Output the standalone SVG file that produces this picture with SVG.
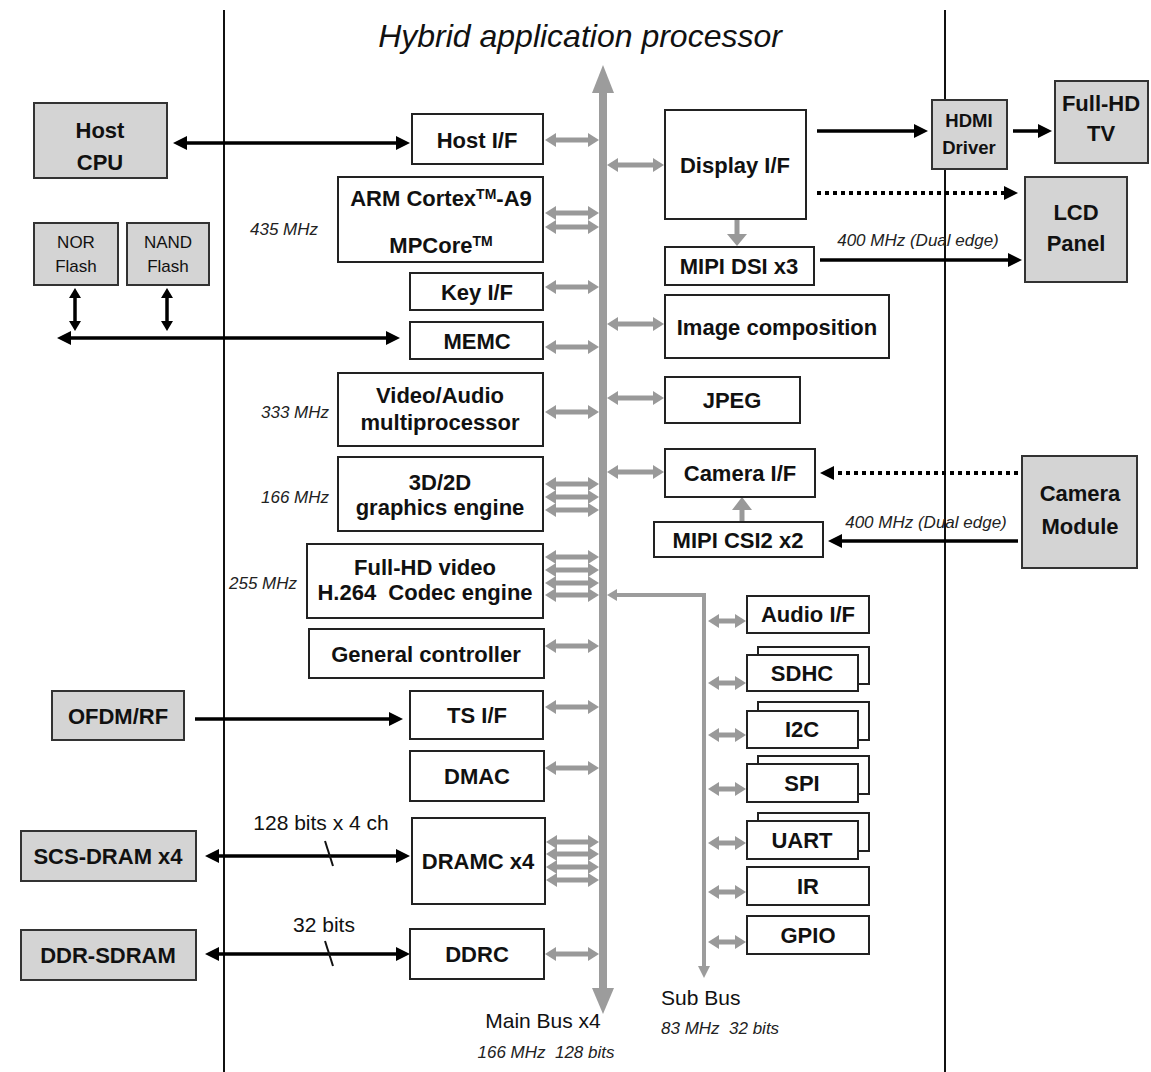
<svg xmlns="http://www.w3.org/2000/svg" width="1151" height="1072" viewBox="0 0 1151 1072">
  <style>
    .box { fill: #ffffff; stroke: #222222; stroke-width: 2; }
    .ext { fill: #d4d4d4; stroke: #333333; stroke-width: 2; }
    .lbl { font-family: "Liberation Sans", Arial, sans-serif; font-weight: bold; font-size: 22px; fill: #111111; text-anchor: middle; }
    .sm { font-size: 18.5px; }
    .flash { font-family: "Liberation Sans", Arial, sans-serif; font-size: 17px; fill: #111111; text-anchor: middle; }
    .freq { font-family: "Liberation Sans", Arial, sans-serif; font-style: italic; font-size: 17px; fill: #222222; text-anchor: middle; }
    .note { font-family: "Liberation Sans", Arial, sans-serif; font-size: 21px; fill: #111111; text-anchor: middle; }
    .start { text-anchor: start; }
    .title { font-family: "Liberation Sans", Arial, sans-serif; font-style: italic; font-size: 32px; fill: #111111; text-anchor: middle; }
    .divider { stroke: #111111; stroke-width: 2; }
    .blk { stroke: #000000; stroke-width: 3.5; fill: none; }
    .dot { stroke: #000000; stroke-width: 4; stroke-dasharray: 4 4; fill: none; }
    .gry { stroke: #999999; stroke-width: 5; fill: none; }
    .bus { stroke: #9c9c9c; stroke-width: 8; fill: none; }
    .subbus { stroke: #9c9c9c; stroke-width: 4; fill: none; }
    .bushead { fill: #9c9c9c; }
    .one { marker-end: url(#ah); }
    .two { marker-start: url(#ah); marker-end: url(#ah); }
    .g2 { marker-start: url(#gh); marker-end: url(#gh); }
  </style>
  <defs>
    <marker id="ah" markerUnits="userSpaceOnUse" markerWidth="14" markerHeight="14" refX="4" refY="7" orient="auto-start-reverse">
      <path d="M0,0 L14,7 L0,14 z" fill="#000000"/>
    </marker>
    <marker id="gh" markerUnits="userSpaceOnUse" markerWidth="11" markerHeight="14" refX="3" refY="7" orient="auto-start-reverse">
      <path d="M0,0 L11,7 L0,14 z" fill="#999999"/>
    </marker>
  </defs>

  <rect width="1151" height="1072" fill="#ffffff"/>

  <!-- chip boundary lines and title -->
  <line class="divider" x1="224" y1="10" x2="224" y2="1072"/>
  <line class="divider" x1="945" y1="10" x2="945" y2="1072"/>
  <text class="title" x="580" y="47">Hybrid application processor</text>

  <g id="connectors">
    <!-- main bus -->
    <line class="bus" x1="603" y1="88" x2="603" y2="994"/>
    <polygon class="bushead" points="603,65 614,93 592,93"/>
    <polygon class="bushead" points="603,1014 614,988 592,988"/>

    <!-- sub bus -->
    <polyline class="subbus" points="614,595 704,595 704,968"/>
    <polygon class="bushead" points="607,595 617,589 617,601"/>
    <polygon class="bushead" points="704,978 710,966 698,966"/>

    <!-- left blocks to main bus -->
    <line class="gry g2" x1="553" y1="140" x2="591" y2="140"/>
    <line class="gry g2" x1="553" y1="213" x2="591" y2="213"/>
    <line class="gry g2" x1="553" y1="227" x2="591" y2="227"/>
    <line class="gry g2" x1="553" y1="287" x2="591" y2="287"/>
    <line class="gry g2" x1="553" y1="347" x2="591" y2="347"/>
    <line class="gry g2" x1="553" y1="412" x2="591" y2="412"/>
    <line class="gry g2" x1="553" y1="484" x2="591" y2="484"/>
    <line class="gry g2" x1="553" y1="497" x2="591" y2="497"/>
    <line class="gry g2" x1="553" y1="510" x2="591" y2="510"/>
    <line class="gry g2" x1="553" y1="557" x2="591" y2="557"/>
    <line class="gry g2" x1="553" y1="570" x2="591" y2="570"/>
    <line class="gry g2" x1="553" y1="583" x2="591" y2="583"/>
    <line class="gry g2" x1="553" y1="595" x2="591" y2="595"/>
    <line class="gry g2" x1="553" y1="646" x2="591" y2="646"/>
    <line class="gry g2" x1="553" y1="707" x2="591" y2="707"/>
    <line class="gry g2" x1="553" y1="768" x2="591" y2="768"/>
    <line class="gry g2" x1="554" y1="842" x2="591" y2="842"/>
    <line class="gry g2" x1="554" y1="854" x2="591" y2="854"/>
    <line class="gry g2" x1="554" y1="867" x2="591" y2="867"/>
    <line class="gry g2" x1="554" y1="880" x2="591" y2="880"/>
    <line class="gry g2" x1="553" y1="954" x2="591" y2="954"/>

    <!-- main bus to right blocks -->
    <line class="gry g2" x1="615" y1="165" x2="656" y2="165"/>
    <line class="gry g2" x1="615" y1="324" x2="656" y2="324"/>
    <line class="gry g2" x1="615" y1="398" x2="656" y2="398"/>
    <line class="gry g2" x1="615" y1="472" x2="656" y2="472"/>

    <!-- display / camera internal links -->
    <line class="gry" x1="737" y1="220" x2="737" y2="236" stroke-width="6"/>
    <polygon fill="#999999" points="737,246 727,234 747,234"/>
    <line class="gry" x1="742" y1="522" x2="742" y2="508" stroke-width="6"/>
    <polygon fill="#999999" points="742,497 732,510 752,510"/>

    <!-- sub bus to peripherals -->
    <line class="gry g2" x1="716" y1="621" x2="738" y2="621"/>
    <line class="gry g2" x1="716" y1="683" x2="738" y2="683"/>
    <line class="gry g2" x1="716" y1="735" x2="738" y2="735"/>
    <line class="gry g2" x1="716" y1="789" x2="738" y2="789"/>
    <line class="gry g2" x1="716" y1="843" x2="738" y2="843"/>
    <line class="gry g2" x1="716" y1="892" x2="738" y2="892"/>
    <line class="gry g2" x1="716" y1="942" x2="738" y2="942"/>

    <!-- external links, left -->
    <line class="blk two" x1="183" y1="143" x2="400" y2="143"/>
    <line class="blk two" x1="67" y1="338" x2="390" y2="338"/>
    <line class="blk" x1="75" y1="292" x2="75" y2="326" stroke-width="3"/>
    <polygon points="75,288 69,298 81,298"/>
    <polygon points="75,331 69,321 81,321"/>
    <line class="blk" x1="167" y1="292" x2="167" y2="326" stroke-width="3"/>
    <polygon points="167,288 161,298 173,298"/>
    <polygon points="167,331 161,321 173,321"/>
    <line class="blk one" x1="195" y1="719" x2="393" y2="719"/>
    <line class="blk two" x1="215" y1="856" x2="400" y2="856"/>
    <line class="blk two" x1="215" y1="954" x2="400" y2="954"/>
    <line x1="325" y1="841" x2="333" y2="866" stroke="#111111" stroke-width="2"/>
    <line x1="325" y1="941" x2="333" y2="966" stroke="#111111" stroke-width="2"/>

    <!-- external links, right -->
    <line class="blk one" x1="817" y1="131" x2="918" y2="131"/>
    <line class="blk one" x1="1013" y1="131" x2="1042" y2="131"/>
    <line class="dot one" x1="817" y1="193" x2="1008" y2="193"/>
    <line class="blk one" x1="820" y1="260" x2="1012" y2="260"/>
    <line class="dot one" x1="1018" y1="473" x2="830" y2="473"/>
    <line class="blk one" x1="1018" y1="541" x2="838" y2="541"/>
  </g>

  <!-- connector labels -->
  <text class="freq" x="918" y="246">400 MHz (Dual edge)</text>
  <text class="freq" x="926" y="528">400 MHz (Dual edge)</text>
  <text class="note" x="321" y="830">128 bits x 4 ch</text>
  <text class="note" x="324" y="932">32 bits</text>
  <text class="note" x="543" y="1028">Main Bus x4</text>
  <text class="freq" x="546" y="1058" xml:space="preserve">166 MHz  128 bits</text>
  <text class="note start" x="661" y="1005">Sub Bus</text>
  <text class="freq start" x="661" y="1034" xml:space="preserve">83 MHz  32 bits</text>

  <!-- clock labels -->
  <text class="freq" x="284" y="235">435 MHz</text>
  <text class="freq" x="295" y="418">333 MHz</text>
  <text class="freq" x="295" y="503">166 MHz</text>
  <text class="freq" x="263" y="589">255 MHz</text>

  <!-- external devices -->
  <g id="host-cpu">
    <rect class="ext" x="34" y="103" width="133" height="75"/>
    <text class="lbl" x="100" y="138">Host</text>
    <text class="lbl" x="100" y="170">CPU</text>
  </g>
  <g id="nor-flash">
    <rect class="ext" x="34" y="223" width="84" height="62"/>
    <text class="flash" x="76" y="248">NOR</text>
    <text class="flash" x="76" y="272">Flash</text>
  </g>
  <g id="nand-flash">
    <rect class="ext" x="127" y="223" width="82" height="62"/>
    <text class="flash" x="168" y="248">NAND</text>
    <text class="flash" x="168" y="272">Flash</text>
  </g>
  <g id="ofdm-rf">
    <rect class="ext" x="52" y="691" width="132" height="49"/>
    <text class="lbl" x="118" y="724">OFDM/RF</text>
  </g>
  <g id="scs-dram">
    <rect class="ext" x="21" y="831" width="175" height="50"/>
    <text class="lbl" x="108" y="864">SCS-DRAM x4</text>
  </g>
  <g id="ddr-sdram">
    <rect class="ext" x="21" y="930" width="175" height="50"/>
    <text class="lbl" x="108" y="963">DDR-SDRAM</text>
  </g>
  <g id="hdmi-driver">
    <rect class="ext" x="932" y="100" width="75" height="69"/>
    <text class="lbl sm" x="969" y="127">HDMI</text>
    <text class="lbl sm" x="969" y="154">Driver</text>
  </g>
  <g id="full-hd-tv">
    <rect class="ext" x="1055" y="81" width="93" height="82"/>
    <text class="lbl" x="1101" y="111">Full-HD</text>
    <text class="lbl" x="1101" y="141">TV</text>
  </g>
  <g id="lcd-panel">
    <rect class="ext" x="1025" y="177" width="102" height="105"/>
    <text class="lbl" x="1076" y="220">LCD</text>
    <text class="lbl" x="1076" y="251">Panel</text>
  </g>
  <g id="camera-module">
    <rect class="ext" x="1022" y="456" width="115" height="112"/>
    <text class="lbl" x="1080" y="501">Camera</text>
    <text class="lbl" x="1080" y="534">Module</text>
  </g>

  <!-- main bus masters and slaves -->
  <g id="host-if">
    <rect class="box" x="412" y="114" width="131" height="50"/>
    <text class="lbl" x="477" y="148">Host I/F</text>
  </g>
  <g id="arm-cortex-a9">
    <rect class="box" x="338" y="177" width="205" height="85"/>
    <text class="lbl" x="441" y="206">ARM Cortex<tspan font-size="14" dy="-7">TM</tspan><tspan dy="7">-A9</tspan></text>
    <text class="lbl" x="441" y="253">MPCore<tspan font-size="14" dy="-7">TM</tspan></text>
  </g>
  <g id="key-if">
    <rect class="box" x="410" y="273" width="133" height="37"/>
    <text class="lbl" x="477" y="300">Key I/F</text>
  </g>
  <g id="memc">
    <rect class="box" x="410" y="322" width="133" height="37"/>
    <text class="lbl" x="477" y="349">MEMC</text>
  </g>
  <g id="video-audio">
    <rect class="box" x="338" y="373" width="205" height="73"/>
    <text class="lbl" x="440" y="403">Video/Audio</text>
    <text class="lbl" x="440" y="430">multiprocessor</text>
  </g>
  <g id="graphics-engine">
    <rect class="box" x="338" y="457" width="205" height="74"/>
    <text class="lbl" x="440" y="490">3D/2D</text>
    <text class="lbl" x="440" y="515">graphics engine</text>
  </g>
  <g id="codec-engine">
    <rect class="box" x="307" y="544" width="236" height="74"/>
    <text class="lbl" x="425" y="575">Full-HD video</text>
    <text class="lbl" x="425" y="600" xml:space="preserve">H.264  Codec engine</text>
  </g>
  <g id="general-controller">
    <rect class="box" x="309" y="629" width="235" height="49"/>
    <text class="lbl" x="426" y="662">General controller</text>
  </g>
  <g id="ts-if">
    <rect class="box" x="410" y="691" width="133" height="48"/>
    <text class="lbl" x="477" y="723">TS I/F</text>
  </g>
  <g id="dmac">
    <rect class="box" x="410" y="751" width="134" height="50"/>
    <text class="lbl" x="477" y="784">DMAC</text>
  </g>
  <g id="dramc">
    <rect class="box" x="412" y="818" width="133" height="86"/>
    <text class="lbl" x="478" y="869">DRAMC x4</text>
  </g>
  <g id="ddrc">
    <rect class="box" x="410" y="929" width="134" height="50"/>
    <text class="lbl" x="477" y="962">DDRC</text>
  </g>

  <g id="display-if">
    <rect class="box" x="665" y="110" width="141" height="109"/>
    <text class="lbl" x="735" y="173">Display I/F</text>
  </g>
  <g id="mipi-dsi">
    <rect class="box" x="665" y="247" width="149" height="38"/>
    <text class="lbl" x="739" y="274">MIPI DSI x3</text>
  </g>
  <g id="image-composition">
    <rect class="box" x="665" y="295" width="224" height="63"/>
    <text class="lbl" x="777" y="335">Image composition</text>
  </g>
  <g id="jpeg">
    <rect class="box" x="665" y="377" width="135" height="46"/>
    <text class="lbl" x="732" y="408">JPEG</text>
  </g>
  <g id="camera-if">
    <rect class="box" x="665" y="449" width="150" height="48"/>
    <text class="lbl" x="740" y="481">Camera I/F</text>
  </g>
  <g id="mipi-csi2">
    <rect class="box" x="654" y="522" width="169" height="35"/>
    <text class="lbl" x="738" y="548">MIPI CSI2 x2</text>
  </g>

  <!-- sub bus peripherals -->
  <g id="audio-if">
    <rect class="box" x="747" y="596" width="122" height="37"/>
    <text class="lbl" x="808" y="622">Audio I/F</text>
  </g>
  <g id="sdhc">
    <rect class="box" x="758" y="647" width="111" height="37"/>
    <rect class="box" x="747" y="655" width="111" height="36"/>
    <text class="lbl" x="802" y="681">SDHC</text>
  </g>
  <g id="i2c">
    <rect class="box" x="758" y="702" width="111" height="38"/>
    <rect class="box" x="747" y="711" width="111" height="37"/>
    <text class="lbl" x="802" y="737">I2C</text>
  </g>
  <g id="spi">
    <rect class="box" x="758" y="756" width="111" height="38"/>
    <rect class="box" x="747" y="764" width="111" height="38"/>
    <text class="lbl" x="802" y="791">SPI</text>
  </g>
  <g id="uart">
    <rect class="box" x="758" y="813" width="111" height="38"/>
    <rect class="box" x="747" y="821" width="111" height="38"/>
    <text class="lbl" x="802" y="848">UART</text>
  </g>
  <g id="ir">
    <rect class="box" x="747" y="867" width="122" height="38"/>
    <text class="lbl" x="808" y="894">IR</text>
  </g>
  <g id="gpio">
    <rect class="box" x="747" y="916" width="122" height="38"/>
    <text class="lbl" x="808" y="943">GPIO</text>
  </g>
</svg>
